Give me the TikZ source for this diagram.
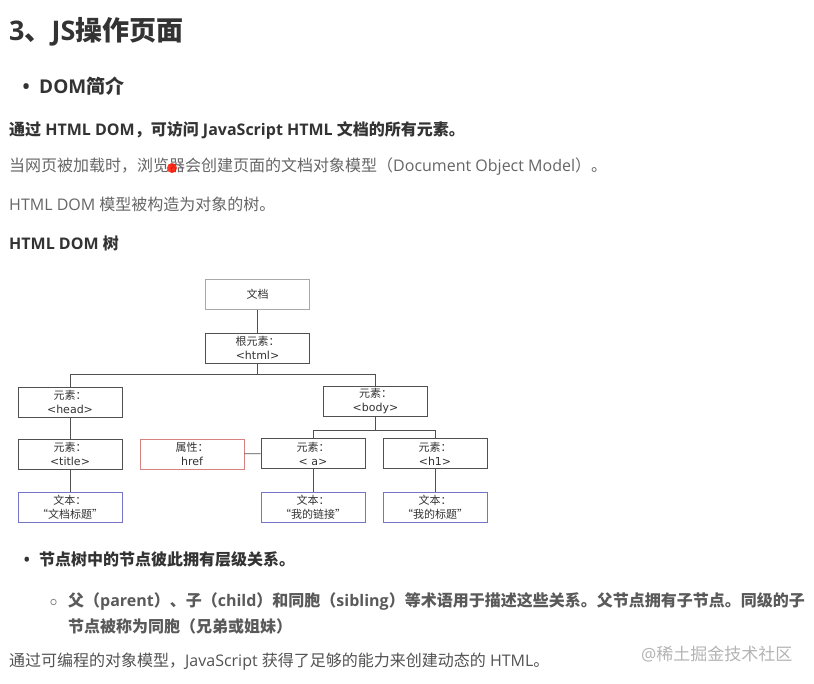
\documentclass[tikz,border=0pt]{standalone}
\usepackage{fontspec}
\usetikzlibrary{positioning}
\setmainfont{Open Sans}
\newfontfamily\cjk{Noto Sans CJK SC}
\newfontfamily\boxfont{DejaVu Sans}

\definecolor{headgray}{HTML}{333333}
\definecolor{textgray}{HTML}{666666}
\definecolor{subgray}{HTML}{5A5A5A}
\definecolor{linegray}{HTML}{505050}
\definecolor{docgray}{HTML}{A8A8A8}
\definecolor{attrred}{HTML}{D98080}
\definecolor{textblue}{HTML}{7474C8}
\definecolor{markgray}{HTML}{B4B4B4}

\newcommand{\boxw}{104pt}
\newcommand{\boxh}{30pt}

\tikzset{
	elem/.style={rectangle, draw=linegray, line width=0.9pt,
		minimum width=\boxw, minimum height=\boxh, inner sep=0pt,
		align=center, text=headgray, font=\fontsize{11}{14}\selectfont},
	docbox/.style={elem, draw=docgray},
	attrbox/.style={elem, draw=attrred},
	textbox/.style={elem, draw=textblue},
	treeline/.style={draw=linegray, line width=0.9pt},
	para/.style={anchor=west, inner sep=0pt, text=textgray,
		font=\fontsize{16}{19}\selectfont},
	strong/.style={para, text=headgray, font=\fontsize{16}{19}\selectfont\bfseries},
	bullet/.style={anchor=base east, inner sep=0pt, text=headgray}
}

\begin{document}
\begin{tikzpicture}[x=1pt, y=-1pt]

\fill[white] (0,0) rectangle (814,684);
\useasboundingbox (0,0) rectangle (814,684);

% Heading
\node[strong, font=\fontsize{27}{31}\selectfont\bfseries] (Heading) at (9,32)
	{3{\cjk 、}JS{\cjk 操作页面}};
\node[strong, font=\fontsize{19}{22}\selectfont\bfseries] (Intro) at (39,86)
	{DOM{\cjk 简介}};
\node[bullet, font=\fontsize{19}{22}\selectfont\bfseries, left=9pt of Intro.base west, anchor=base east]
	(Dot-1) {•};

% Paragraphs
\node[strong] (Para-1) at (9,130)
	{{\cjk 通过} HTML DOM{\cjk ，可访问} JavaScript HTML {\cjk 文档的所有元素。}};
\node[para] (Para-2) at (9,167)
	{{\cjk 当网页被加载时，浏览器会创建页面的文档对象模型（}Document Object Model{\cjk ）。}};
\node[para] (Para-3) at (9,204) {HTML DOM {\cjk 模型被构造为对象的树。}};
\node[strong] (Para-4) at (9,243) {HTML DOM {\cjk 树}};

\fill[red!85!orange, opacity=0.85] (172,168) circle (5);

% Tree nodes
\node[docbox] (Doc) at (257.5,294.5) {{\cjk 文档}};
\node[elem] (Root) at (257.5,348) {{\cjk 根元素：}\\{\boxfont <html>}};
\node[elem] (Head) at (70,402) {{\cjk 元素：}\\{\boxfont <head>}};
\node[elem] (Body) at (375.5,401.5) {{\cjk 元素：}\\{\boxfont <body>}};
\node[elem] (Title) at (70,454) {{\cjk 元素：}\\{\boxfont <title>}};
\node[attrbox] (Href) at (192,454) {{\cjk 属性：}\\{\boxfont href}};
\node[elem] (Link) at (313,453.5) {{\cjk 元素：}\\{\boxfont < a>}};
\node[elem] (Hone) at (435,453.5) {{\cjk 元素：}\\{\boxfont <h1>}};

\foreach \i/\x/\t in {1/70/文档标题, 2/313/我的链接, 3/435/我的标题}
{
	\node[textbox] (Text-\i) at (\x,507.5) {{\cjk 文本：}\\{\cjk “\t”}};
}

\coordinate (Bus-root) at (257.5,374);
\coordinate (Bus-body) at (375.5,430);

% Connect tree
\draw[treeline] (Doc) -- (Root);
\draw[treeline] (Root) -- (Bus-root);
\draw[treeline] (Bus-root) -| (Head);
\draw[treeline] (Bus-root) -| (Body);
\draw[treeline] (Head) -- (Title);
\draw[treeline] (Title) -- (Text-1);
\draw[treeline] (Body) -- (Bus-body);
\draw[treeline] (Bus-body) -| (Link);
\draw[treeline] (Bus-body) -| (Hone);
\draw[treeline] (Href) -- (Link);
\draw[treeline] (Link) -- (Text-2);
\draw[treeline] (Hone) -- (Text-3);

% Relations
\node[strong] (Rel) at (39,559) {{\cjk 节点树中的节点彼此拥有层级关系。}};
\node[bullet, font=\fontsize{16}{19}\selectfont\bfseries, left=9pt of Rel.base west, anchor=base east]
	(Dot-2) {•};
\node[circle, draw=subgray!70, line width=0.8pt, inner sep=0pt, minimum size=5.5pt]
	(Ring) at (53.5,602) {};
\node[para, text=subgray, font=\fontsize{16}{19}\selectfont\bfseries] (Rel-1) at (68,602)
	{{\cjk 父（}parent{\cjk ）、子（}child{\cjk ）和同胞（}sibling{\cjk ）等术语用于描述这些关系。父节点拥有子节点。同级的子}};
\node[para, text=subgray, font=\fontsize{16}{19}\selectfont\bfseries] (Rel-2) at (68,626)
	{{\cjk 节点被称为同胞（兄弟或姐妹）}};
\node[para, text=headgray!85] (Para-5) at (9,662)
	{{\cjk 通过可编程的对象模型，}JavaScript {\cjk 获得了足够的能力来创建动态的} HTML{\cjk 。}};

% Watermark
\node[para, text=markgray, font=\fontsize{17}{20}\selectfont] (Mark) at (641,654)
	{@{\cjk 稀土掘金技术社区}};

\end{tikzpicture}
\end{document}
